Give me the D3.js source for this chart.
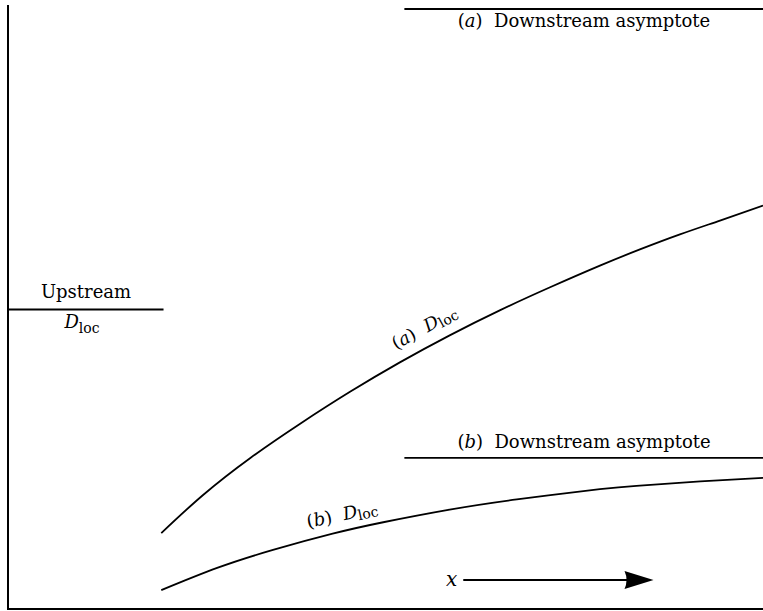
<!DOCTYPE html>
<html>
<head>
<meta charset="utf-8">
<script src="https://cdn.jsdelivr.net/npm/d3@7"></script>
<style>
  html, body { margin: 0; padding: 0; background: #fff; }
  svg { display: block; }
  text { font-family: "DejaVu Serif", "Liberation Serif", serif; fill: #000; }
</style>
</head>
<body>
<svg id="chart" width="763" height="611"></svg>
<script>
// ---- data (abstract units: x along stream, y = D_loc level) ----
const curveA_x = [0.203, 0.258, 0.321, 0.387, 0.453, 0.519, 0.585, 0.652, 0.718, 0.784, 0.837, 0.890, 0.943, 1.0];
const curveA_y = [0.128, 0.191, 0.253, 0.310, 0.363, 0.412, 0.457, 0.499, 0.537, 0.573, 0.600, 0.625, 0.648, 0.673];
const curveB_x = [0.203, 0.277, 0.351, 0.430, 0.497, 0.585, 0.674, 0.784, 0.837, 0.917, 1.0];
const curveB_y = [0.033, 0.070, 0.100, 0.127, 0.146, 0.167, 0.184, 0.201, 0.207, 0.214, 0.220];
const upstreamLevel = 0.5;
const upstreamX = [0.0, 0.206];
const asymptoteA = 1.0;
const asymptoteB = 0.253;
const asymptoteX = [0.525, 1.0];
const arrowX = [0.603, 0.855];

const svg = d3.select("#chart");
const x = d3.scaleLinear().domain([0, 1]).range([8, 763]);
const y = d3.scaleLinear().domain([0, 1]).range([610, 9]);

// frame lines
svg.append("line").attr("x1", x(0)).attr("x2", x(0)).attr("y1", 5).attr("y2", y(0))
  .attr("stroke", "#000").attr("stroke-width", 2);
svg.append("line").attr("x1", x(0)).attr("x2", x(1)).attr("y1", y(0) - 1).attr("y2", y(0) - 1)
  .attr("stroke", "#000").attr("stroke-width", 2);

const line = d3.line().x(d => x(d[0])).y(d => y(d[1])).curve(d3.curveNatural);

svg.append("path").datum(d3.zip(curveA_x, curveA_y)).attr("d", line)
  .attr("fill", "none").attr("stroke", "#000").attr("stroke-width", 1.8);
svg.append("path").datum(d3.zip(curveB_x, curveB_y)).attr("d", line)
  .attr("fill", "none").attr("stroke", "#000").attr("stroke-width", 1.8);

function hline(x0, x1, lv) {
  svg.append("line").attr("x1", x(x0)).attr("x2", x(x1)).attr("y1", y(lv)).attr("y2", y(lv))
    .attr("stroke", "#000").attr("stroke-width", 1.8);
}
hline(upstreamX[0], upstreamX[1], upstreamLevel);
hline(asymptoteX[0], asymptoteX[1], asymptoteA);
hline(asymptoteX[0], asymptoteX[1], asymptoteB);

// labels
const fs = 18;
function asymLabel(letter, yy) {
  const t = svg.append("text").attr("x", 584).attr("y", yy)
    .attr("text-anchor", "middle").attr("font-size", fs);
  t.append("tspan").text("(");
  t.append("tspan").attr("font-style", "italic").text(letter);
  t.append("tspan").text(")\u00a0\u00a0Downstream asymptote");
}
asymLabel("a", y(asymptoteA) + 18);
asymLabel("b", y(asymptoteB) - 10);

svg.append("text").attr("x", 86).attr("y", y(upstreamLevel) - 12)
  .attr("text-anchor", "middle").attr("font-size", fs).text("Upstream");
(function () {
  const t = svg.append("text").attr("x", 82).attr("y", y(upstreamLevel) + 18)
    .attr("text-anchor", "middle").attr("font-size", fs);
  t.append("tspan").attr("font-style", "italic").text("D");
  t.append("tspan").attr("font-size", 14).attr("dy", 5).text("loc");
})();

function curveLabel(letter, px, py, angle) {
  const t = svg.append("text").attr("transform", `translate(${px},${py}) rotate(${angle})`)
    .attr("font-size", fs);
  t.append("tspan").text("(");
  t.append("tspan").attr("font-style", "italic").text(letter);
  t.append("tspan").text(")\u00a0\u00a0");
  t.append("tspan").attr("font-style", "italic").text("D");
  t.append("tspan").attr("font-size", 14).attr("dy", 3).text("loc");
}
curveLabel("a", 396, 350, -29);
curveLabel("b", 308, 528, -12);

// x arrow
const ay = 580;
svg.append("line").attr("x1", x(arrowX[0])).attr("x2", x(arrowX[1]) - 20).attr("y1", ay).attr("y2", ay)
  .attr("stroke", "#000").attr("stroke-width", 2);
const tip = x(arrowX[1]);
svg.append("path")
  .attr("d", `M${tip},${ay} L${tip - 29},${ay - 9} Q${tip - 25},${ay} ${tip - 29},${ay + 9} Z`)
  .attr("fill", "#000");
svg.append("text").attr("x", x(arrowX[0]) - 6).attr("y", ay + 6).attr("text-anchor", "end")
  .attr("font-size", 20).attr("font-style", "italic").text("x");
</script>
</body>
</html>
